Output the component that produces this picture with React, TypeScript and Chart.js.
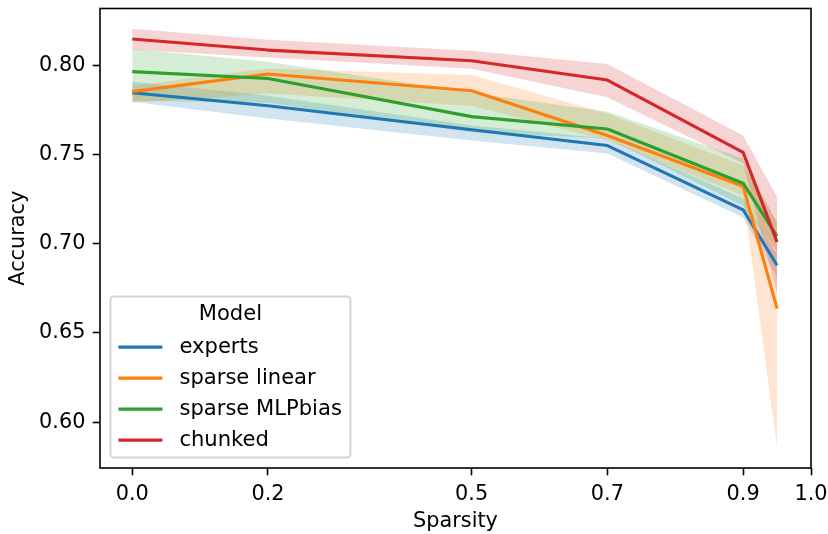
import React, { useEffect, useRef } from "react";
import { Chart, registerables } from "chart.js";

Chart.register(...registerables);

// Sparsity levels evaluated for every model
const sparsity = [0.0, 0.2, 0.5, 0.7, 0.9, 0.95];
const xTicks = [0.0, 0.2, 0.5, 0.7, 0.9, 1.0];
const yTicks = [0.6, 0.65, 0.7, 0.75, 0.8];

const modelNames = ["experts", "sparse linear", "sparse MLPbias", "chunked"];
const modelColors = ["#1f77b4", "#ff7f0e", "#2ca02c", "#d62728"];
const bandColors = [
  "rgba(31,119,180,0.2)",
  "rgba(255,127,14,0.2)",
  "rgba(44,160,44,0.2)",
  "rgba(214,39,40,0.2)",
];

// Mean accuracy and confidence interval per model
const expertsMean = [0.7846, 0.7773, 0.7639, 0.755, 0.719, 0.6879];
const expertsHigh = [0.7908, 0.7829, 0.7662, 0.7589, 0.7253, 0.694];
const expertsLow = [0.7796, 0.7701, 0.7578, 0.7505, 0.7147, 0.681];

const sparseLinearMean = [0.7852, 0.7951, 0.7857, 0.7606, 0.7322, 0.6636];
const sparseLinearHigh = [0.7885, 0.7982, 0.7945, 0.7729, 0.7438, 0.712];
const sparseLinearLow = [0.779, 0.7841, 0.7773, 0.7578, 0.727, 0.5855];

const mlpBiasMean = [0.7964, 0.7926, 0.7712, 0.7643, 0.7339, 0.7041];
const mlpBiasHigh = [0.8091, 0.802, 0.7846, 0.774, 0.7477, 0.712];
const mlpBiasLow = [0.7801, 0.779, 0.7624, 0.7589, 0.7214, 0.696];

const chunkedMean = [0.8147, 0.8085, 0.8025, 0.7917, 0.7512, 0.7009];
const chunkedHigh = [0.8204, 0.8143, 0.8081, 0.8007, 0.7606, 0.7261];
const chunkedLow = [0.8087, 0.8044, 0.798, 0.782, 0.7449, 0.6722];

const meanSeries = [expertsMean, sparseLinearMean, mlpBiasMean, chunkedMean];
const highSeries = [expertsHigh, sparseLinearHigh, mlpBiasHigh, chunkedHigh];
const lowSeries = [expertsLow, sparseLinearLow, mlpBiasLow, chunkedLow];

const X_MIN = -0.0475;
const X_MAX = 1.0;
const Y_MIN = 0.5743;
const Y_MAX = 0.8318;

const FONT = "DejaVu Sans";
const FS = 20.8;

const toPoints = (ys: number[]) => sparsity.map((x, i) => ({ x, y: ys[i] }));

// Black frame around the plotting area
const framePlugin = {
  id: "frame",
  afterDatasetsDraw(chart: any) {
    const { ctx, chartArea } = chart;
    ctx.save();
    ctx.strokeStyle = "#000";
    ctx.lineWidth = 1.6;
    ctx.strokeRect(
      chartArea.left,
      chartArea.top,
      chartArea.right - chartArea.left,
      chartArea.bottom - chartArea.top
    );
    ctx.restore();
  },
};

// Legend box in the lower-left corner of the plotting area
const legendPlugin = {
  id: "modelLegend",
  afterDraw(chart: any) {
    const { ctx, chartArea } = chart;
    const left = chartArea.left + 10.4;
    const bottom = chartArea.bottom - 10.4;
    const w = 240;
    const h = 161;
    const top = bottom - h;
    const r = 4;
    ctx.save();
    ctx.beginPath();
    ctx.moveTo(left + r, top);
    ctx.lineTo(left + w - r, top);
    ctx.quadraticCurveTo(left + w, top, left + w, top + r);
    ctx.lineTo(left + w, bottom - r);
    ctx.quadraticCurveTo(left + w, bottom, left + w - r, bottom);
    ctx.lineTo(left + r, bottom);
    ctx.quadraticCurveTo(left, bottom, left, bottom - r);
    ctx.lineTo(left, top + r);
    ctx.quadraticCurveTo(left, top, left + r, top);
    ctx.closePath();
    ctx.fillStyle = "rgba(255,255,255,0.8)";
    ctx.fill();
    ctx.strokeStyle = "rgba(204,204,204,0.8)";
    ctx.lineWidth = 2;
    ctx.stroke();

    ctx.font = `${FS + 0.3}px "${FONT}"`;
    ctx.fillStyle = "#000";
    ctx.textBaseline = "middle";
    ctx.textAlign = "center";
    ctx.fillText("Model", left + w / 2, top + 18);

    ctx.textAlign = "left";
    modelNames.forEach((name, i) => {
      const y = top + 50.5 + i * 31;
      ctx.strokeStyle = modelColors[i];
      ctx.lineWidth = 3.1;
      ctx.beginPath();
      ctx.moveTo(left + 8, y);
      ctx.lineTo(left + 52, y);
      ctx.stroke();
      ctx.fillText(name, left + 69, y);
    });
    ctx.restore();
  },
};

export default function App() {
  const canvasRef = useRef<HTMLCanvasElement | null>(null);

  useEffect(() => {
    if (!canvasRef.current) return;

    const datasets: any[] = [];
    modelNames.forEach((name, i) => {
      datasets.push({
        label: name + " upper",
        data: toPoints(highSeries[i]),
        borderWidth: 0,
        pointRadius: 0,
        fill: "+1",
        backgroundColor: bandColors[i],
        order: 100 - i * 2,
        tension: 0,
      });
      datasets.push({
        label: name + " lower",
        data: toPoints(lowSeries[i]),
        borderWidth: 0,
        pointRadius: 0,
        fill: false,
        backgroundColor: bandColors[i],
        order: 99 - i * 2,
        tension: 0,
      });
    });
    modelNames.forEach((name, i) => {
      datasets.push({
        label: name,
        data: toPoints(meanSeries[i]),
        borderColor: modelColors[i],
        borderWidth: 3.1,
        pointRadius: 0,
        fill: false,
        order: 10 - i,
        tension: 0,
        borderCapStyle: "butt",
        borderJoinStyle: "round",
      });
    });

    const tickFont = { family: FONT, size: FS };

    const chart = new Chart(canvasRef.current, {
      type: "line",
      data: { datasets },
      plugins: [framePlugin, legendPlugin],
      options: {
        animation: false,
        responsive: false,
        devicePixelRatio: 1,
        layout: { padding: { left: 0, top: 8.5, right: 17, bottom: 0 } },
        plugins: {
          legend: { display: false },
          tooltip: { enabled: false },
        },
        scales: {
          x: {
            type: "linear",
            min: X_MIN,
            max: X_MAX,
            afterBuildTicks: (s: any) => {
              s.ticks = xTicks.map((value) => ({ value }));
            },
            afterFit: (s: any) => {
              s.height = 66;
              s.paddingLeft = 0;
              s.paddingRight = 0;
              s.paddingTop = 0;
              s.paddingBottom = 0;
            },
            border: { display: false },
            grid: {
              display: true,
              drawOnChartArea: false,
              drawTicks: true,
              tickLength: 7.3,
              tickWidth: 1.6,
              tickColor: "#000",
            },
            ticks: {
              color: "#000",
              font: tickFont,
              padding: 7.3,
              maxRotation: 0,
              autoSkip: false,
              callback: (v: any) => Number(v).toFixed(1),
            },
            title: {
              display: true,
              text: "Sparsity",
              color: "#000",
              font: tickFont,
              padding: { top: 0, bottom: 0 },
            },
          },
          y: {
            type: "linear",
            min: Y_MIN,
            max: Y_MAX,
            afterBuildTicks: (s: any) => {
              s.ticks = yTicks.map((value) => ({ value }));
            },
            afterFit: (s: any) => {
              s.width = 100;
              s.paddingLeft = 0;
              s.paddingRight = 0;
              s.paddingTop = 0;
              s.paddingBottom = 0;
            },
            border: { display: false },
            grid: {
              display: true,
              drawOnChartArea: false,
              drawTicks: true,
              tickLength: 7.3,
              tickWidth: 1.6,
              tickColor: "#000",
            },
            ticks: {
              color: "#000",
              font: tickFont,
              padding: 7.3,
              autoSkip: false,
              callback: (v: any) => Number(v).toFixed(2),
            },
            title: {
              display: true,
              text: "Accuracy",
              color: "#000",
              font: tickFont,
              padding: { top: 6, bottom: 0 },
            },
          },
        },
      },
    });

    return () => chart.destroy();
  }, []);

  return (
    <div style={{ position: "absolute", left: 0, top: 0, width: 828, height: 534, background: "#fff" }}>
      <canvas ref={canvasRef} width={828} height={534} style={{ display: "block" }} />
    </div>
  );
}
